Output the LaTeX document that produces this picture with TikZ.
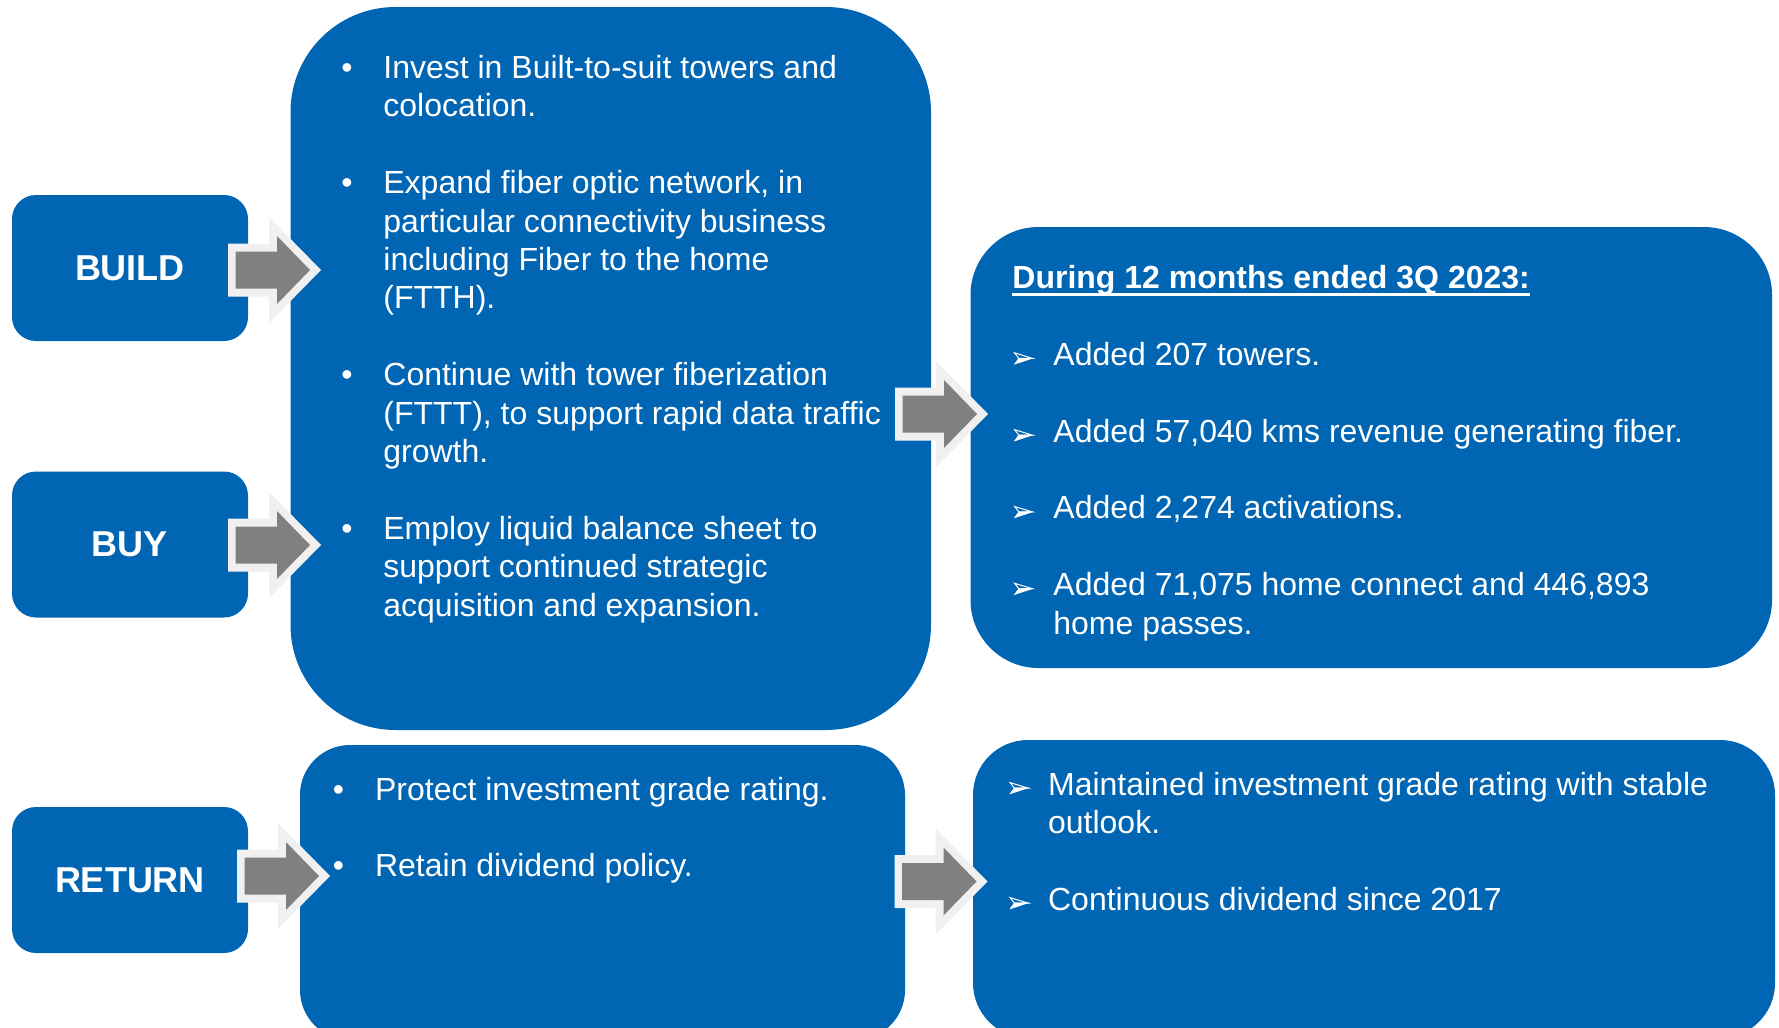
\documentclass[tikz,border=0pt]{standalone}
\usepackage{fontspec}
\setmainfont{Liberation Sans}
\usetikzlibrary{fit}
\definecolor{boxblue}{HTML}{0066B3}
\definecolor{arrowgray}{HTML}{808080}
\definecolor{arrowedge}{HTML}{F0F0F0}
\tikzset{
  bluebox/.style={fill=boxblue, draw=none, inner sep=0pt},
  boxlabel/.style={text=white, font=\fontsize{18}{21}\selectfont\bfseries, inner sep=0pt},
  txtline/.style={text=white, font=\fontsize{16}{19.2}\selectfont, inner sep=0pt, anchor=base west},
  hdrline/.style={text=white, font=\fontsize{16}{19.2}\selectfont\bfseries, inner sep=0pt, anchor=base west},
  bulletmark/.style={text=white, font=\fontsize{16}{19.2}\selectfont, inner sep=0pt, anchor=base west},
  arrowouter/.style={fill=arrowedge, draw=none},
  arrowinner/.style={fill=arrowgray, draw=none},
  facettop/.style={draw=white, line width=0.5pt, line join=miter},
  facetbottom/.style={fill=white, draw=white, line width=0.3pt, line join=miter},
}
\newcommand\blockarrowshape[2]{%
  \fill[arrowouter] (#1,{#2-26.5}) -- ({#1+41},{#2-26.5}) -- ({#1+41},{#2-53}) -- ({#1+93},#2)
    -- ({#1+41},{#2+53}) -- ({#1+41},{#2+26.5}) -- (#1,{#2+26.5}) -- cycle;
  \fill[arrowinner] ({#1+7.5},{#2-18.5}) -- ({#1+49},{#2-18.5}) -- ({#1+49},{#2-34}) -- ({#1+82},#2)
    -- ({#1+49},{#2+34}) -- ({#1+49},{#2+18.5}) -- ({#1+7.5},{#2+18.5}) -- cycle;
}
% 3-D arrowhead bullet: #1 = left x, #2 = baseline y
\newcommand\arrowbullet[2]{%
  \draw[facettop] ({#1+0.6},{#2-12.4}) -- ({#1+18.3},{#2-7}) -- ({#1+4.8},{#2-7}) -- cycle;
  \draw[facetbottom] ({#1+4.8},{#2-7}) -- ({#1+18.3},{#2-7}) -- ({#1+0.6},{#2-1.2}) -- cycle;
}
\begin{document}
\begin{tikzpicture}[x=0.5pt, y=-0.5pt]
\useasboundingbox (0,0) rectangle (1779,1028);
\fill[white] (0,0) rectangle (1779,1028);
\clip (0,0) rectangle (1779,1028);

% boxes
\node[bluebox, rounded corners=12pt, fit={(12,195)(248,341)}] (build) {};
\node[bluebox, rounded corners=12pt, fit={(12,471.5)(248,617.5)}] (buy) {};
\node[bluebox, rounded corners=12pt, fit={(12,807)(248,953)}] (ret) {};
\node[bluebox, rounded corners=52.5pt, fit={(290.5,7)(931,730)}] (mid) {};
\node[bluebox, rounded corners=34pt, fit={(970.5,227)(1772,668)}] (res) {};
\node[bluebox, rounded corners=25pt, fit={(300,745)(905,1040)}] (retmid) {};
\node[bluebox, rounded corners=27.5pt, fit={(973,740)(1775,1038)}] (retres) {};

% block arrows
\blockarrowshape{228}{270}
\blockarrowshape{228}{545}
\blockarrowshape{237}{876}
\blockarrowshape{895}{414}
\blockarrowshape{894.5}{881.5}

% left labels
\node[boxlabel] (buildt) at (build.center) {BUILD};
\node[boxlabel] (buyt) at (buy.center) {BUY};
\node[boxlabel] (rett) at (ret.center) {RETURN};

% middle box text
\node[bulletmark] (mb1) at (341,78.5) {•};
\node[txtline] (m1) at (383,78.5) {Invest in Built-to-suit towers and};
\node[txtline] (m2) at (383,116.9) {colocation.};
\node[bulletmark] (mb2) at (341,193.7) {•};
\node[txtline] (m3) at (383,193.7) {Expand fiber optic network, in};
\node[txtline] (m4) at (383,232.1) {particular connectivity business};
\node[txtline] (m5) at (383,270.5) {including Fiber to the home};
\node[txtline] (m6) at (383,308.9) {(FTTH).};
\node[bulletmark] (mb3) at (341,385.7) {•};
\node[txtline] (m7) at (383,385.7) {Continue with tower fiberization};
\node[txtline] (m8) at (383,424.1) {(FTTT), to support rapid data traffic};
\node[txtline] (m9) at (383,462.5) {growth.};
\node[bulletmark] (mb4) at (341,539.3) {•};
\node[txtline] (m10) at (383,539.3) {Employ liquid balance sheet to};
\node[txtline] (m11) at (383,577.7) {support continued strategic};
\node[txtline] (m12) at (383,616.1) {acquisition and expansion.};

% results box text
\node[hdrline] (hdr) at (1012,288.5) {During 12 months ended 3Q 2023:};
\draw[white, line width=1.2pt] ([yshift=-3pt]hdr.base west) -- ([yshift=-3pt]hdr.base east);
\arrowbullet{1014}{365.3}
\node[txtline] (r1) at (1053,365.3) {Added 207 towers.};
\arrowbullet{1014}{442.1}
\node[txtline] (r2) at (1053,442.1) {Added 57,040 kms revenue generating fiber.};
\arrowbullet{1014}{518.9}
\node[txtline] (r3) at (1053,518.9) {Added 2,274 activations.};
\arrowbullet{1014}{595.7}
\node[txtline] (r4) at (1053,595.7) {Added 71,075 home connect and 446,893};
\node[txtline] (r5) at (1053,634.1) {home passes.};

% return middle text
\node[bulletmark] (pb1) at (332.5,800) {•};
\node[txtline] (p1) at (374.7,800) {Protect investment grade rating.};
\node[bulletmark] (pb2) at (332.5,876.7) {•};
\node[txtline] (p2) at (374.7,876.7) {Retain dividend policy.};

% return results text
\arrowbullet{1009.5}{795}
\node[txtline] (q1) at (1047.7,795) {Maintained investment grade rating with stable};
\node[txtline] (q2) at (1047.7,833.4) {outlook.};
\arrowbullet{1009.5}{910}
\node[txtline] (q3) at (1047.7,910) {Continuous dividend since 2017};
\end{tikzpicture}
\end{document}
